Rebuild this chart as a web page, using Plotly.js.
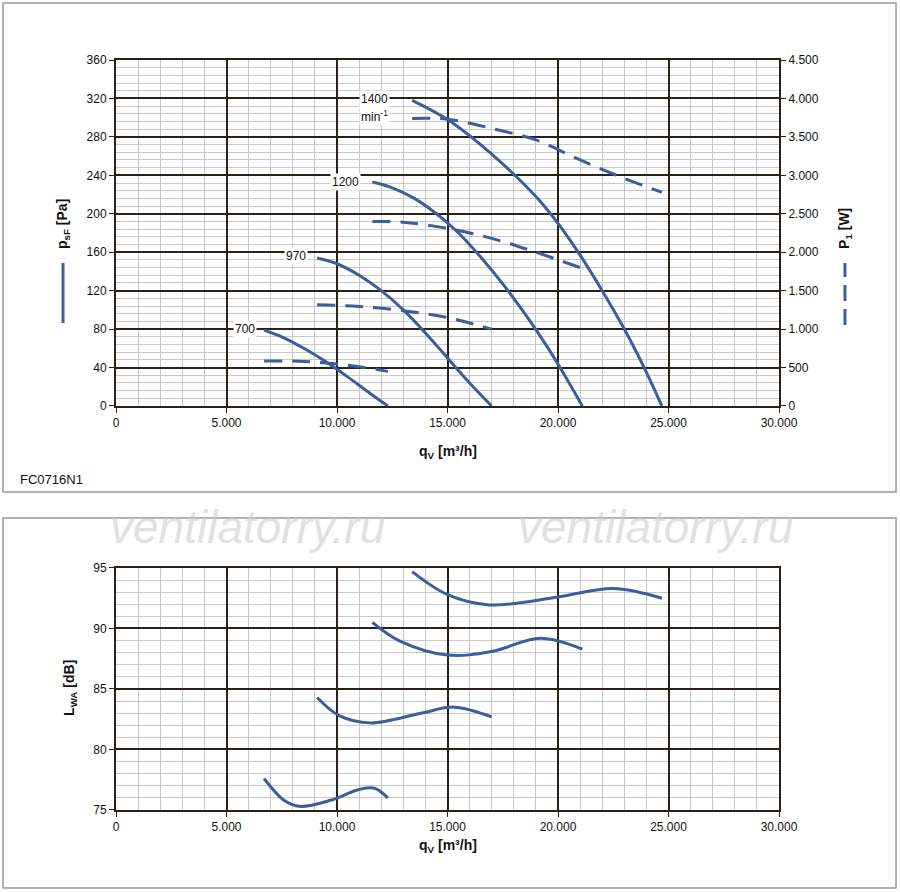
<!DOCTYPE html>
<html><head><meta charset="utf-8">
<script src="https://cdn.plot.ly/plotly-3.0.1.min.js"></script>
<style>body{margin:0;background:#fff}#g{width:900px;height:892px}</style>
</head><body><div id="g"></div>
<script>
// Pressure curves (q [m3/h], psF [Pa])
const q1400=[13400,15000,17000,19000,20000,21000,22000,23000,24000,24700];
const p1400=[318,298,262,218,190,157,120,80,35,0];
const q1200=[11600,12500,13500,14500,15500,16500,17500,18500,19500,20300,21100];
const p1200=[233,227,216,200,180,155,127,96,62,32,0];
const q970=[9100,10000,11000,12000,13000,14000,15000,16000,17000];
const p970=[154,148,136,120,100,76,50,24,0];
const q700=[6700,7500,8500,9500,10500,11500,12300];
const p700=[79,72,60,46,30,13,0];
// Power curves (P1 [W])
const wq1400=[13400,15000,17000,19000,21000,23000,24700];
const w1400=[3740,3730,3610,3460,3200,2960,2780];
const wq1200=[11600,13000,15000,17000,19000,21100];
const w1200=[2400,2390,2310,2180,2000,1790];
const wq970=[9100,11000,13000,15000,17000];
const w970=[1315,1295,1240,1150,1000];
const wq700=[6700,8500,10500,12300];
const w700=[585,580,530,450];
// Sound power (LWA [dB])
const lq1400=[13400,15000,16900,20000,22500,24700];
const l1400=[94.7,92.8,91.95,92.6,93.3,92.5];
const lq1200=[11600,12800,15000,17000,19200,21100];
const l1200=[90.5,89.0,87.8,88.1,89.2,88.3];
const lq970=[9100,10100,11500,13800,15300,17000];
const l970=[84.3,82.8,82.2,83.0,83.5,82.7];
const lq700=[6700,7600,8300,9700,11000,11700,12300];
const l700=[77.6,75.8,75.3,75.8,76.7,76.8,76.0];
const speeds=['1400','1200','970','700'];

const C='#3b5f9b';
const sol=(x,y,xa,ya)=>({x,y,xaxis:xa,yaxis:ya,mode:'lines',line:{color:C,width:3,shape:'spline'},hoverinfo:'skip'});
const das=(x,y)=>({x,y,xaxis:'x',yaxis:'y2',mode:'lines',line:{color:C,width:3,dash:'18px,10px',shape:'spline'},hoverinfo:'skip'});
const data=[
 sol(q1400,p1400,'x','y'),sol(q1200,p1200,'x','y'),sol(q970,p970,'x','y'),sol(q700,p700,'x','y'),
 das(wq1400,w1400),das(wq1200,w1200),das(wq970,w970),das(wq700,w700),
 sol(lq1400,l1400,'x2','y3'),sol(lq1200,l1200,'x2','y3'),sol(lq970,l970,'x2','y3'),sol(lq700,l700,'x2','y3')
];
const F={family:'Liberation Sans, Arial, sans-serif',size:12,color:'#111'};
const TF={family:F.family,size:14,color:'#111'};
const major='#2a2218', minor='#c8c8c8';
const xax=(anchor)=>({range:[0,30000],dtick:5000,tickformat:',d',anchor,showgrid:true,gridcolor:major,gridwidth:2,
  minor:{dtick:1000,showgrid:true,gridcolor:minor,gridwidth:1},ticks:'outside',ticklen:5,tickcolor:major,
  showline:true,linecolor:major,linewidth:2,mirror:true,zeroline:false,tickfont:F,fixedrange:true});
const yax=(o)=>Object.assign({showgrid:true,gridcolor:major,gridwidth:2,ticks:'outside',ticklen:5,tickcolor:major,
  zeroline:false,tickfont:F,showline:true,linecolor:major,linewidth:2,fixedrange:true},o);
const layout={
 width:900,height:892,margin:{l:116,r:121,t:60,b:82},paper_bgcolor:'#fff',plot_bgcolor:'#fff',
 showlegend:false,separators:',.',font:F,
 xaxis:Object.assign(xax('y'),{domain:[0,1]}),
 yaxis:yax({domain:[0.5387,1],range:[0,360],dtick:40,anchor:'x',minor:{dtick:8,showgrid:true,gridcolor:minor,gridwidth:1}}),
 yaxis2:yax({overlaying:'y',side:'right',range:[0,4500],dtick:500,tickformat:',d',anchor:'x',showgrid:false}),
 xaxis2:Object.assign(xax('y3'),{domain:[0,1]}),
 yaxis3:yax({domain:[0,0.3227],range:[75,95],dtick:5,anchor:'x2',mirror:true,minor:{dtick:1,showgrid:true,gridcolor:minor,gridwidth:1}}),
 shapes:[
  {type:'rect',xref:'paper',yref:'paper',x0:-0.1704,x1:1.1765,y0:0.424,y1:1.076,line:{color:'#999',width:1.5}},
  {type:'rect',xref:'paper',yref:'paper',x0:-0.1704,x1:1.1765,y0:-0.104,y1:0.3893,line:{color:'#999',width:1.5}},
  {type:'line',xref:'paper',yref:'paper',x0:-0.0799,x1:-0.0799,y0:(810-323)/750,y1:(810-263)/750,line:{color:C,width:3}},
  {type:'line',xref:'paper',yref:'paper',x0:1.0995,x1:1.0995,y0:(810-325)/750,y1:(810-263)/750,line:{color:C,width:3,dash:'16px,8px'}}
 ],
 annotations:[
  {xref:'x',yref:'y',x:12400,y:319,text:speeds[0],showarrow:false,bgcolor:'#fff',font:F,xanchor:'right'},
  {xref:'x',yref:'y',x:12400,y:302,text:'min<sup>-1</sup>',showarrow:false,bgcolor:'#fff',font:F,xanchor:'right'},
  {xref:'x',yref:'y',x:11100,y:233,text:speeds[1],showarrow:false,bgcolor:'#fff',font:F,xanchor:'right'},
  {xref:'x',yref:'y',x:8700,y:156,text:speeds[2],showarrow:false,bgcolor:'#fff',font:F,xanchor:'right'},
  {xref:'x',yref:'y',x:6400,y:80,text:speeds[3],showarrow:false,bgcolor:'#fff',font:F,xanchor:'right'},
  {xref:'paper',yref:'paper',x:0.5,y:(810-452)/750,text:'<b>q<sub>V</sub> [m³/h]</b>',showarrow:false,font:TF},
  {xref:'paper',yref:'paper',x:0.5,y:(810-857)/750,text:'<b>q<sub>V</sub> [m³/h]</b>',showarrow:false,font:TF},
  {xref:'paper',yref:'paper',x:-0.0799,xanchor:'center',yanchor:'middle',y:(810-224)/750,text:'<b>p<sub>sF</sub> [Pa]</b>',textangle:-90,showarrow:false,font:TF},
  {xref:'paper',yref:'paper',x:1.0995,xanchor:'center',yanchor:'middle',y:(810-228)/750,text:'<b>P<sub>1</sub> [W]</b>',textangle:-90,showarrow:false,font:TF},
  {xref:'paper',yref:'paper',x:-0.0695,xanchor:'center',yanchor:'middle',y:(810-688)/750,text:'<b>L<sub>WA</sub> [dB]</b>',textangle:-90,showarrow:false,font:TF},
  {xref:'paper',yref:'paper',x:-0.148,y:(810-479)/750,text:'FC0716N1',xanchor:'left',showarrow:false,font:{family:F.family,size:13,color:'#111'}},
  {xref:'paper',yref:'paper',x:(247-116)/663,xanchor:'center',y:(810-527)/750,text:'<i>ventilatorry.ru</i>',showarrow:false,font:{family:'Liberation Sans, sans-serif',size:46,color:'rgba(205,205,205,0.6)'}},
  {xref:'paper',yref:'paper',x:(655-116)/663,xanchor:'center',y:(810-527)/750,text:'<i>ventilatorry.ru</i>',showarrow:false,font:{family:'Liberation Sans, sans-serif',size:46,color:'rgba(205,205,205,0.6)'}}
 ]
};
Plotly.newPlot('g',data,layout,{staticPlot:true});
</script></body></html>
